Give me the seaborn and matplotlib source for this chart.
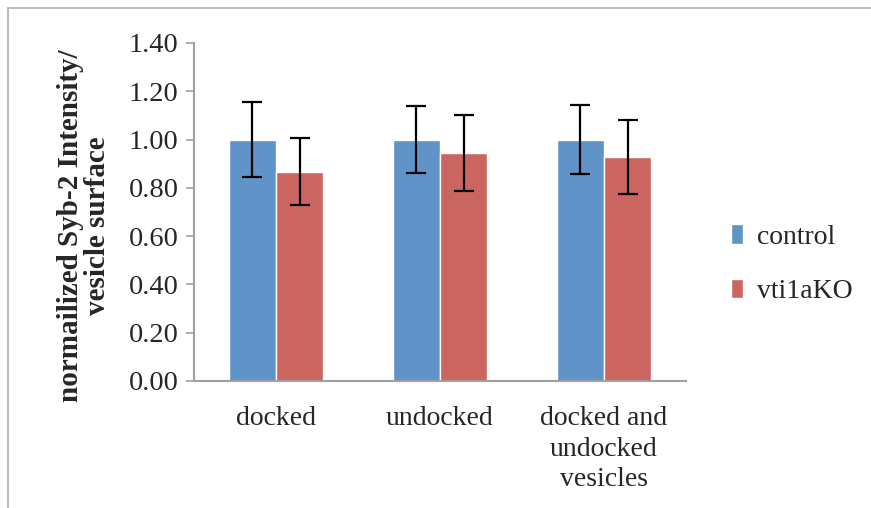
import matplotlib
matplotlib.use("Agg")
import matplotlib.pyplot as plt
from matplotlib.lines import Line2D
import seaborn as sns
import pandas as pd
import numpy as np

# values
categories = ["docked", "undocked", "docked and\nundocked\nvesicles"]
groups = ["control", "vti1aKO"]
control_mean = [1.00, 1.00, 1.00]
control_err = [0.157, 0.140, 0.144]
ko_mean = [0.867, 0.943, 0.927]
ko_err = [0.140, 0.158, 0.154]
colors = ["#6094C9", "#CB6560"]

df = pd.DataFrame({
    "category": categories * 2,
    "group": [groups[0]] * 3 + [groups[1]] * 3,
    "value": control_mean + ko_mean,
    "err": control_err + ko_err,
})

sns.set_style("white")
plt.rcParams["font.family"] = ["Liberation Serif", "DejaVu Serif"]

fig = plt.figure(figsize=(8.71, 5.08), dpi=100)
ax = fig.add_axes([0.2227, 0.25, 0.5649, 0.6654])

sns.barplot(data=df, x="category", y="value", hue="group", order=categories,
            hue_order=groups, palette=colors, width=0.575, saturation=1,
            errorbar=None, ax=ax)

# error bars at the bar centres
for container, g in zip(ax.containers, groups):
    sub = df[df["group"] == g].set_index("category").loc[categories]
    xs = [p.get_x() + p.get_width() / 2 for p in container.patches]
    ax.errorbar(xs, sub["value"], yerr=sub["err"], fmt="none", ecolor="black",
                elinewidth=1.6, capsize=7, capthick=1.6, zorder=5)

ax.set_xlim(-0.5, 2.5)
ax.set_ylim(0, 1.4)
yt = np.arange(0, 1.41, 0.2)
ax.set_yticks(yt)
ax.set_yticklabels([f"{v:.2f}" for v in yt], fontsize=20.5)
ax.set_xticks(range(3))
ax.set_xticklabels(categories, fontsize=20, linespacing=1.3)
ax.set_xticks([-0.5, 0.5, 1.5, 2.5], minor=True)
ax.tick_params(axis="x", which="major", length=0, pad=18)
ax.tick_params(axis="x", which="minor", length=7, width=1.2, color="#A0A0A0",
               direction="out")
ax.tick_params(axis="y", length=6, width=1.2, color="#A0A0A0", direction="out",
               left=True, pad=5)

for s in ["top", "right"]:
    ax.spines[s].set_visible(False)
for s in ["left", "bottom"]:
    ax.spines[s].set_color("#A0A0A0")
    ax.spines[s].set_linewidth(1.5)

ax.set_xlabel("")
ax.set_ylabel("normailized Syb-2 Intensity/\nvesicle surface", fontsize=21,
              fontweight="bold", linespacing=1.0)
ax.yaxis.set_label_coords(-0.168, 0.46)

ax.legend(loc="center left", bbox_to_anchor=(1.04, 0.345), frameon=False,
          fontsize=20, handlelength=0.45, handleheight=0.7, handletextpad=0.5,
          labelspacing=1.05)

# outer chart frame (partially visible in the reference)
fig.add_artist(Line2D([8 / 871, 8 / 871], [0, 1 - 8 / 508],
                      color="#B0B0B0", lw=1.2, transform=fig.transFigure))
fig.add_artist(Line2D([8 / 871, 1], [1 - 8 / 508, 1 - 8 / 508],
                      color="#B0B0B0", lw=1.2, transform=fig.transFigure))

fig.savefig("out.png", dpi=100)
